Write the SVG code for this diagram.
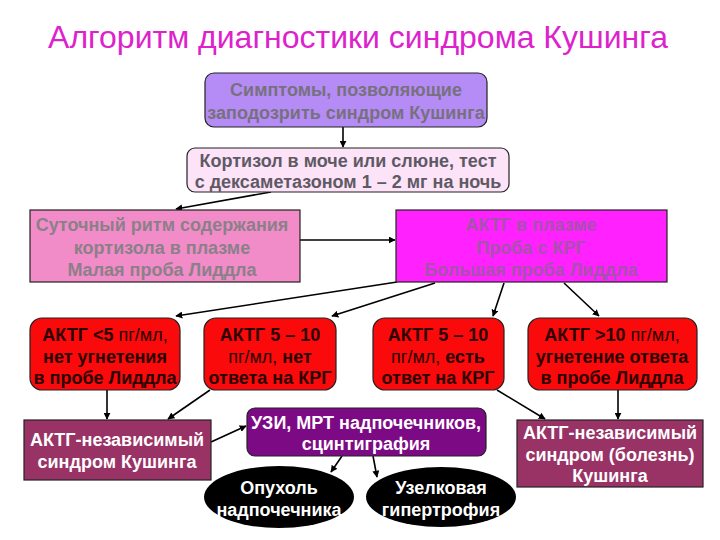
<svg xmlns="http://www.w3.org/2000/svg" width="720" height="540" viewBox="0 0 720 540">
<style>
text{font-family:"Liberation Sans",Arial,sans-serif;text-anchor:middle}
.t{font-size:32px;fill:#dd22cc}
.g{font-size:18px;font-weight:bold;fill:#77707f}
.g2{font-size:18px;font-weight:bold;fill:#5e5a64}
.g3{font-size:18px;font-weight:bold;fill:#8a8088}
.m{font-size:18px;font-weight:bold;fill:#a652ac}
.r{font-size:18px;font-weight:bold;fill:#2a0000}
.rn{font-weight:normal}
.w{font-size:18px;font-weight:bold;fill:#ffffff}
.c line{stroke:#000;stroke-width:1.6;marker-end:url(#a)}
.box{stroke:#222;stroke-width:1.2}
</style>
<defs>
<marker id="a" viewBox="0 0 10 10" refX="9" refY="5" markerWidth="7" markerHeight="7" markerUnits="userSpaceOnUse" orient="auto">
<path d="M0,0 L10,5 L0,10 z" fill="#000"/>
</marker>
</defs>
<rect width="720" height="540" fill="#fff"/>
<text class="t" x="358" y="48">Алгоритм диагностики синдрома Кушинга</text>

<g class="c">
<line x1="343" y1="127" x2="343" y2="147"/>
<line x1="271" y1="192" x2="176" y2="209"/>
<line x1="300" y1="240" x2="395" y2="240"/>
<line x1="397" y1="282" x2="176" y2="316"/>
<line x1="435" y1="283" x2="332" y2="316"/>
<line x1="504" y1="283" x2="493" y2="316"/>
<line x1="564" y1="283" x2="599" y2="316"/>
<line x1="107" y1="390" x2="107" y2="419"/>
<line x1="210" y1="390" x2="168" y2="419"/>
<line x1="211" y1="442" x2="246" y2="426"/>
<line x1="497" y1="390" x2="545" y2="419"/>
<line x1="618" y1="390" x2="618" y2="419"/>
<line x1="342" y1="456" x2="331" y2="472"/>
<line x1="373" y1="456" x2="377" y2="477"/>
</g>

<g id="n1">
<rect class="box" x="205" y="73" width="282" height="54" rx="9" fill="#b58cf5"/>
<text class="g" x="346" y="96">Симптомы, позволяющие</text>
<text class="g" x="346" y="119">заподозрить синдром Кушинга</text>
</g>
<g id="n2">
<rect class="box" x="187" y="148" width="322" height="44" rx="8" fill="#fde3f8"/>
<text class="g2" x="348" y="167">Кортизол в моче или слюне, тест</text>
<text class="g2" x="348" y="188">с дексаметазоном 1 – 2 мг на ночь</text>
</g>
<g id="n3">
<rect class="box" x="30" y="210" width="270" height="72" fill="#f28cc8"/>
<text class="g3" x="162" y="231">Суточный ритм содержания</text>
<text class="g3" x="162" y="254">кортизола в плазме</text>
<text class="g3" x="162" y="276">Малая проба Лиддла</text>
</g>
<g id="n4">
<rect class="box" x="396" y="210" width="271" height="72" fill="#ff22ff"/>
<text class="m" x="531" y="231">АКТГ в плазме</text>
<text class="m" x="531" y="254">Проба с КРГ</text>
<text class="m" x="531" y="276">Большая проба Лиддла</text>
</g>
<g id="n5">
<rect class="box" x="30" y="318" width="150" height="72" rx="12" fill="#fa0a0a"/>
<text class="r" x="105" y="341">АКТГ &lt;5 <tspan class="rn">пг/мл,</tspan></text>
<text class="r" x="105" y="363">нет угнетения</text>
<text class="r" x="105" y="384">в пробе Лиддла</text>
</g>
<g id="n6">
<rect class="box" x="204" y="318" width="132" height="72" rx="12" fill="#fa0a0a"/>
<text class="r" x="270" y="341">АКТГ 5 – 10</text>
<text class="r" x="270" y="363"><tspan class="rn">пг/мл,</tspan> нет</text>
<text class="r" x="270" y="384">ответа на КРГ</text>
</g>
<g id="n7">
<rect class="box" x="373" y="318" width="131" height="72" rx="12" fill="#fa0a0a"/>
<text class="r" x="438" y="341">АКТГ 5 – 10</text>
<text class="r" x="438" y="363"><tspan class="rn">пг/мл,</tspan> есть</text>
<text class="r" x="438" y="384">ответ на КРГ</text>
</g>
<g id="n8">
<rect class="box" x="528" y="318" width="169" height="72" rx="12" fill="#fa0a0a"/>
<text class="r" x="612" y="341">АКТГ &gt;10 <tspan class="rn">пг/мл,</tspan></text>
<text class="r" x="612" y="363">угнетение ответа</text>
<text class="r" x="612" y="384">в пробе Лиддла</text>
</g>
<g id="n9">
<rect class="box" x="24" y="420" width="187" height="60" fill="#993366"/>
<text class="w" x="117" y="446">АКТГ-независимый</text>
<text class="w" x="117" y="468">синдром Кушинга</text>
</g>
<g id="n10">
<rect class="box" x="247" y="408" width="239" height="48" rx="8" fill="#7d0a85"/>
<text class="w" x="366" y="429">УЗИ, МРТ надпочечников,</text>
<text class="w" x="366" y="450">сцинтиграфия</text>
</g>
<g id="n11">
<rect class="box" x="517" y="420" width="186" height="67" fill="#993366"/>
<text class="w" x="610" y="439">АКТГ-независимый</text>
<text class="w" x="610" y="461">синдром (болезнь)</text>
<text class="w" x="610" y="482">Кушинга</text>
</g>
<g id="n12">
<ellipse cx="279" cy="497" rx="75" ry="31" fill="#000"/>
<text class="w" x="279" y="494">Опухоль</text>
<text class="w" x="279" y="516">надпочечника</text>
</g>
<g id="n13">
<ellipse cx="441" cy="497" rx="75" ry="30" fill="#000"/>
<text class="w" x="441" y="494">Узелковая</text>
<text class="w" x="441" y="516">гипертрофия</text>
</g>
</svg>
